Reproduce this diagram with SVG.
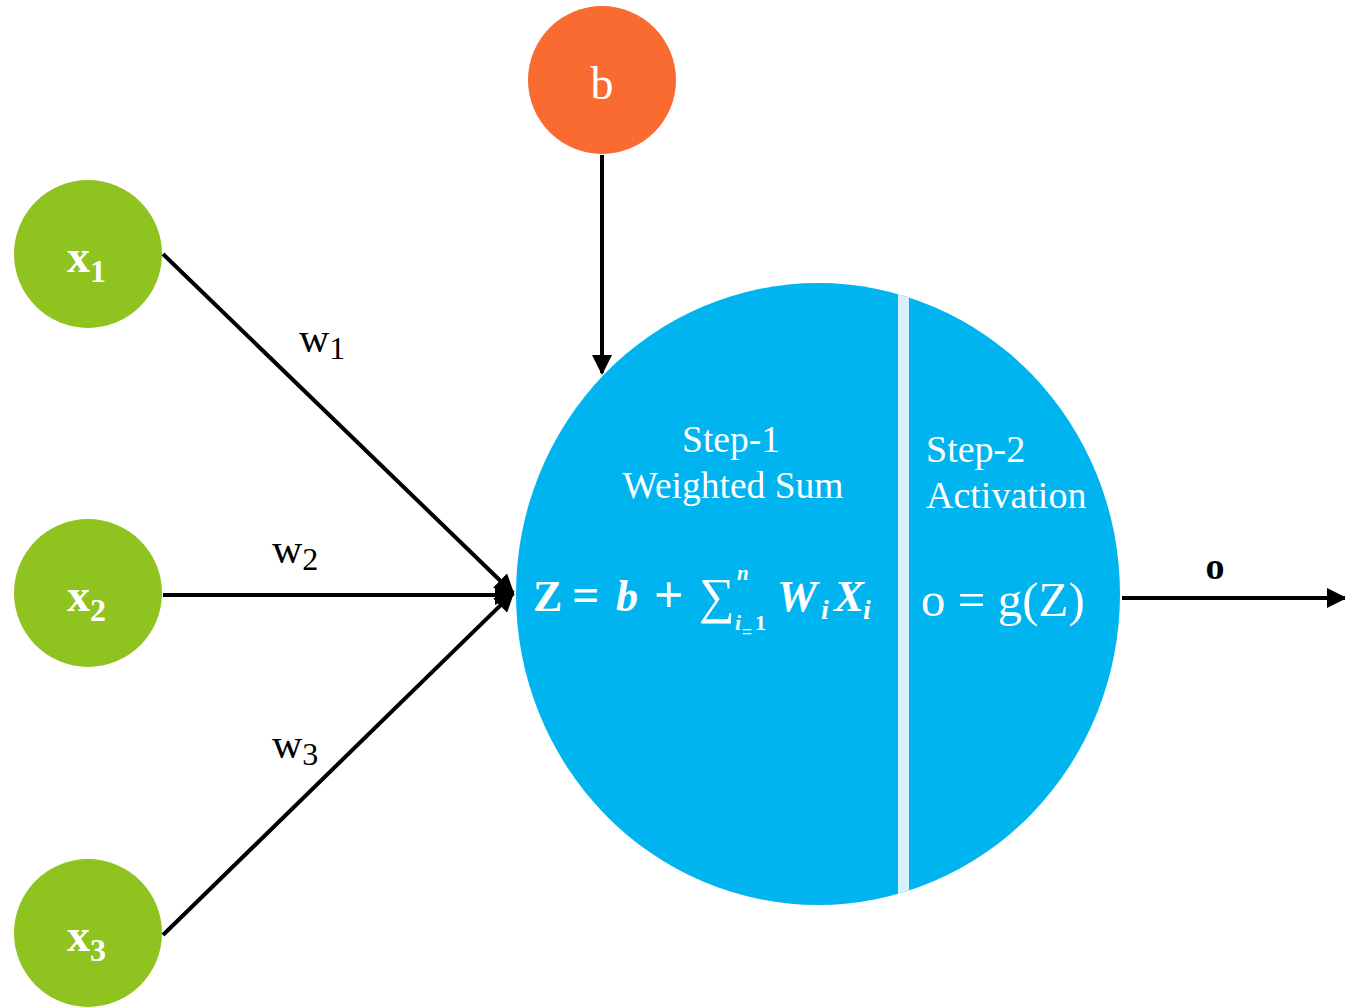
<svg xmlns="http://www.w3.org/2000/svg" width="1345" height="1007" viewBox="0 0 1345 1007">
<style>
.in{fill:#8fc31f}
.bias{fill:#f96b30}
.neuron{fill:#00b4f0}
.conn{stroke:#000;stroke-width:4;fill:none}
text{font-family:"Liberation Serif","Times New Roman","DejaVu Serif",serif}
.w{fill:#fff}
.k{fill:#000}
.m{font-weight:bold;font-style:italic}
</style>
<defs>
<marker id="ah" viewBox="0 0 10 10" refX="9" refY="5" markerWidth="5" markerHeight="5" markerUnits="strokeWidth" orient="auto">
<path d="M0,0 L10,5 L0,10 z" fill="#000"/>
</marker>
<clipPath id="nc"><ellipse cx="818" cy="594" rx="302" ry="311"/></clipPath>
</defs>
<g id="neuron">
<ellipse class="neuron" cx="818" cy="594" rx="302" ry="311"/>
<rect x="898" y="270" width="11" height="650" fill="#d9f1fc" clip-path="url(#nc)"/>
<text class="w" x="731" y="452" font-size="37.5" text-anchor="middle">Step-1</text>
<text class="w" x="733" y="498" font-size="37.5" text-anchor="middle">Weighted Sum</text>
<text class="w" x="926" y="462" font-size="38">Step-2</text>
<text class="w" x="926" y="508" font-size="38">Activation</text>
<text class="w" x="533" y="611" font-size="44" font-weight="bold">Z</text>
<text class="w" x="572" y="611" font-size="48" font-weight="bold">=</text>
<text class="w m" x="616" y="611" font-size="44">b</text>
<text class="w" x="654" y="612" font-size="52" font-weight="bold">+</text>
<text class="w" x="699" y="613" font-size="50">∑</text>
<text class="w" x="737" y="580" font-size="21" font-style="italic" font-weight="bold">n</text>
<text class="w" x="735" y="630" font-size="22" font-style="italic" font-weight="bold">i</text>
<text class="w" x="742" y="638" font-size="18" font-weight="bold">=</text>
<text class="w" x="755" y="630" font-size="22" font-weight="bold">1</text>
<text class="w m" x="777" y="611" font-size="45">W</text>
<text class="w m" x="821" y="619" font-size="28">i</text>
<text class="w m" x="834" y="611" font-size="45">X</text>
<text class="w m" x="863" y="619" font-size="28">i</text>
<text class="w" x="921" y="616" font-size="49">o = g(Z)</text>
</g>
<g id="bias">
<circle class="bias" cx="602" cy="80" r="74"/>
<text class="w" x="602" y="99" font-size="46" text-anchor="middle">b</text>
</g>
<g id="x1">
<circle class="in" cx="88" cy="254" r="74"/>
<text class="w" x="67" y="272" font-size="46" font-weight="bold">x<tspan font-size="32" dy="10">1</tspan></text>
</g>
<g id="x2">
<circle class="in" cx="88" cy="593" r="74"/>
<text class="w" x="67" y="611" font-size="46" font-weight="bold">x<tspan font-size="32" dy="10">2</tspan></text>
</g>
<g id="x3">
<circle class="in" cx="88" cy="933" r="74"/>
<text class="w" x="67" y="951" font-size="46" font-weight="bold">x<tspan font-size="32" dy="10">3</tspan></text>
</g>
<g id="connectors">
<line class="conn" x1="163" y1="254" x2="513" y2="593" marker-end="url(#ah)"/>
<line class="conn" x1="163" y1="595" x2="513" y2="595" marker-end="url(#ah)"/>
<line class="conn" x1="163" y1="935" x2="513" y2="593" marker-end="url(#ah)"/>
<line class="conn" x1="602" y1="155" x2="602" y2="373" marker-end="url(#ah)"/>
<line class="conn" x1="1122" y1="598" x2="1345" y2="598" marker-end="url(#ah)"/>
<text class="k" x="299" y="352" font-size="42">w<tspan font-size="32" dy="7">1</tspan></text>
<text class="k" x="272" y="563" font-size="42">w<tspan font-size="32" dy="7">2</tspan></text>
<text class="k" x="272" y="758" font-size="42">w<tspan font-size="32" dy="7">3</tspan></text>
<text class="k" x="1215" y="579" font-size="38" font-weight="bold" text-anchor="middle">o</text>
</g>
</svg>
